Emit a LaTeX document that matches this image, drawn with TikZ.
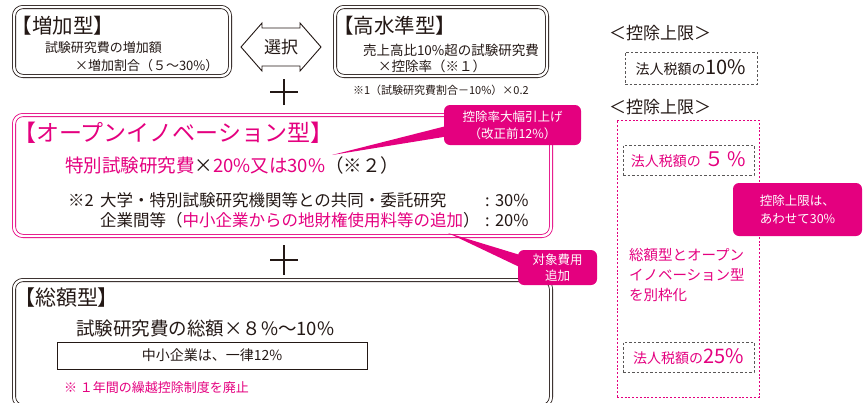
\documentclass[tikz,border=0pt]{standalone}
\usepackage{fontspec}
\setmainfont{Noto Sans CJK JP}
\definecolor{pk}{HTML}{E4007F}
\definecolor{ink}{HTML}{231815}
\definecolor{dg}{HTML}{595757}
\newcommand\fsz[1]{\fontsize{#1}{#1}\selectfont}
\begin{document}
\begin{tikzpicture}[x=1pt,y=-1pt,
  txt/.style={inner sep=0pt, outer sep=0pt, text=ink},
  dblbox/.style={draw=#1, line width=0.8pt, double=white, double distance=2.4pt, rounded corners=9pt, inner sep=0pt},
  callout/.style={fill=pk, rounded corners=6pt, text=white, inner sep=0pt, align=center},
  gdash/.style={draw=dg, line width=1pt, dash pattern=on 2.5pt off 2pt, inner sep=0pt},
  pdot/.style={draw=pk, line width=0.9pt, dash pattern=on 2pt off 1.8pt, inner sep=0pt},
  plus/.style={draw=ink, line width=2.2pt},
]
\useasboundingbox (0,0) rectangle (865,402);
\clip (0,0) rectangle (865,402);

% ---- top boxes
\node[dblbox=ink, minimum width=216pt, minimum height=69pt] (zoka) at (122,41.5) {};
\node[txt, anchor=west, font=\fsz{20.5}] (zokaT) at (12,26) {【増加型】};
\node[txt, anchor=west, font=\fsz{13}] (zoka1) at (45,48) {試験研究費の増加額};
\node[txt, anchor=west, font=\fsz{13}] (zoka2) at (75,66) {×増加割合（５〜30\%）};

\coordinate (ac) at (281,47);
\path[draw=ink, line width=0.9pt, fill=white, line join=miter]
  (241,47) -- (262,23) -- (262,28) -- (300,28) -- (300,23) -- (321,47)
  -- (300,71) -- (300,66) -- (262,66) -- (262,71) -- cycle;
\node[txt, font=\fsz{17}] (sentaku) at (ac) {選択};

\node[dblbox=ink, minimum width=212pt, minimum height=69pt] (kosui) at (441,41.5) {};
\node[txt, anchor=west, font=\fsz{20.5}] (kosuiT) at (333,26) {【高水準型】};
\node[txt, anchor=west, font=\fsz{13.5}] (kosui1) at (363,50) {売上高比10\%超の試験研究費};
\node[txt, anchor=west, font=\fsz{13.5}] (kosui2) at (378,66) {×控除率（※１）};
\node[txt, anchor=west, font=\fsz{11}] (note1) at (353,90) {※1（試験研究費割合－10\%）×0.2};

% plus 1
\coordinate (pl1) at (284,92);
\draw[plus] ([xshift=-14pt]pl1) -- ([xshift=14pt]pl1);
\draw[plus] ([yshift=-13pt]pl1) -- ([yshift=13pt]pl1);

% ---- open innovation box
\node[dblbox=pk, minimum width=537pt, minimum height=121pt] (open) at (282.5,175.5) {};
\node[txt, anchor=west, font=\fsz{23}, text=pk] (openT) at (13,133) {【オープンイノベーション型】};
\node[txt, anchor=west, font=\fsz{18.5}] (open1) at (65,165) {{\color{pk}特別試験研究費}×{\color{pk}20\%又は30\%}（※２）};
\node[txt, anchor=west, font=\fsz{16.5}] (open2a) at (68,200) {※2};
\node[txt, anchor=west, font=\fsz{16.5}] (open2) at (100,200) {大学・特別試験研究機関等との共同・委託研究};
\node[txt, anchor=west, font=\fsz{16.5}] (open3) at (100,220) {企業間等（{\color{pk}中小企業からの地財権使用料等の追加}）};
\node[txt, anchor=west, font=\fsz{16.5}] (open2r) at (485,200) {:\,\,30\%};
\node[txt, anchor=west, font=\fsz{16.5}] (open3r) at (485,220) {:\,\,20\%};

% callout 1
\coordinate (t1) at (332,155);
\fill[pk] (462,122) -- (t1) -- (462,134) -- cycle;
\node[callout, minimum width=137pt, minimum height=40pt, font=\fontsize{12.5}{17}\selectfont] (c1) at (512.5,125) {控除率大幅引上げ\\（改正前12\%）};

% plus 2
\coordinate (pl2) at (284,260);
\draw[plus] ([xshift=-14pt]pl2) -- ([xshift=14pt]pl2);
\draw[plus] ([yshift=-15pt]pl2) -- ([yshift=15pt]pl2);

% ---- sogaku box
\node[dblbox=ink, minimum width=537pt, minimum height=126pt] (sogaku) at (282.5,343) {};
\node[txt, anchor=west, font=\fsz{21}] (sogakuT) at (14,298) {【総額型】};
\node[txt, anchor=west, font=\fsz{18.5}] (sogaku1) at (76,328) {試験研究費の総額×８\%〜10\%};
\node[draw=ink, line width=0.8pt, minimum width=310pt, minimum height=27pt, inner sep=0pt, text=ink, font=\fsz{14}] (sme) at (212,355.5) {中小企業は、一律12\%};
\node[txt, anchor=west, font=\fsz{13}, text=pk] (sogaku2) at (64,388) {※ １年間の繰越控除制度を廃止};

% callout 2
\coordinate (t2) at (448,233);
\fill[pk] (530,258) -- (t2) -- (530,272) -- cycle;
\node[callout, minimum width=79pt, minimum height=35pt, font=\fontsize{12.5}{16}\selectfont] (c2) at (557.5,267.5) {対象費用\\追加};

% ---- right column
\node[txt, font=\fsz{17}] (lim1) at (660,33) {＜控除上限＞};
\node[gdash, minimum width=132pt, minimum height=32pt, text=ink] (d1) at (691,68) {{\fsz{14}法人税額の}{\fsz{20}10\%}};
\node[txt, font=\fsz{17}] (lim2) at (660,107) {＜控除上限＞};
\node[pdot, minimum width=142pt, minimum height=277pt] (big) at (688,258.5) {};
\node[gdash, minimum width=131pt, minimum height=30pt, text=pk] (d2) at (688.5,160) {{\fsz{14}法人税額の}{\fsz{20}\,５\,\%}};
\node[txt, anchor=north west, align=left, text=pk, font=\fontsize{14.5}{20}\selectfont] (sep) at (629,248) {総額型とオープン\\イノベーション型\\を別枠化};
\node[gdash, minimum width=131pt, minimum height=30pt, text=pk] (d3) at (688.5,357) {{\fsz{14}法人税額の}{\fsz{20}25\%}};
\node[callout, align=left, minimum width=129pt, minimum height=53pt, font=\fontsize{12.5}{18}\selectfont] (c3) at (797.5,209.5) {控除上限は、\\あわせて30\%};
\end{tikzpicture}
\end{document}
